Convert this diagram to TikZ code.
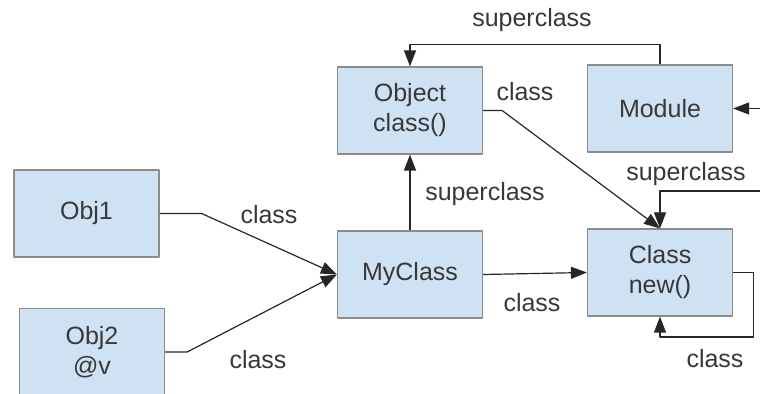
\documentclass[tikz,border=0pt]{standalone}
\usepackage{fontspec}
\setmainfont{Liberation Sans}
\usetikzlibrary{arrows.meta}
\definecolor{boxfill}{HTML}{CFE2F3}
\definecolor{boxline}{HTML}{8C8C8C}
\definecolor{txt}{HTML}{383838}
\begin{document}
\begin{tikzpicture}[x=0.5pt, y=-0.5pt, font=\fontsize{12.5}{15}\selectfont, line join=round, >={Triangle[length=8pt,width=6pt]},
    cls/.style={draw=boxline, fill=boxfill, line width=0.6pt, minimum width=72.5pt, minimum height=43.5pt, align=center, text=txt, inner sep=0pt},
    lbl/.style={text=txt, inner sep=0pt},
    link/.style={->, draw=black!85, line width=0.6pt}]
    \clip (0,0) rectangle (760,394);
    %\draw[dashed, gray] (0,0) grid[step=50] (760,394);
    \node[cls] (obj1) at (86.5,213.5) {Obj1};
    \node[cls] (obj2) at (92,352) {Obj2\\@v};
    \node[cls] (myclass) at (410,274.5) {MyClass};
    \node[cls] (object) at (410,110.5) {Object\\class()};
    \node[cls] (module) at (660,108.5) {Module};
    \node[cls] (klass) at (660,272.5) {Class\\new()};
    \coordinate (modin) at (762,108.5);
    \coordinate (klassin) at (762,191);
    \draw[link] (obj1.east) -- ++(42,0) -- (myclass.west);
    \draw[link] (obj2.east) -- ++(22,0) -- (myclass.west);
    \draw[link] (myclass.north) -- (object.south);
    \draw[link] (myclass.east) -- (klass.west);
    \draw[link] (object.east) -- ++(19,0) -- (klass.north);
    \draw[link] (module.north) -- ++(0,-20) -| (object.north);
    \draw[link] (modin) -- (module.east);
    \draw[link] (klassin) -| (klass.north);
    \draw[link] (klass.east) -- ++(20,0) -- ++(0,64.5) -| (klass.south);
    \node[lbl] (l1) at (532,20) {superclass};
    \node[lbl] (l2) at (525,92) {class};
    \node[lbl] (l3) at (485,194) {superclass};
    \node[lbl] (l4) at (686,174) {superclass};
    \node[lbl] (l5) at (532,303) {class};
    \node[lbl] (l6) at (715,359) {class};
    \node[lbl] (l7) at (269,215) {class};
    \node[lbl] (l8) at (258,360) {class};
\end{tikzpicture}
\end{document}
